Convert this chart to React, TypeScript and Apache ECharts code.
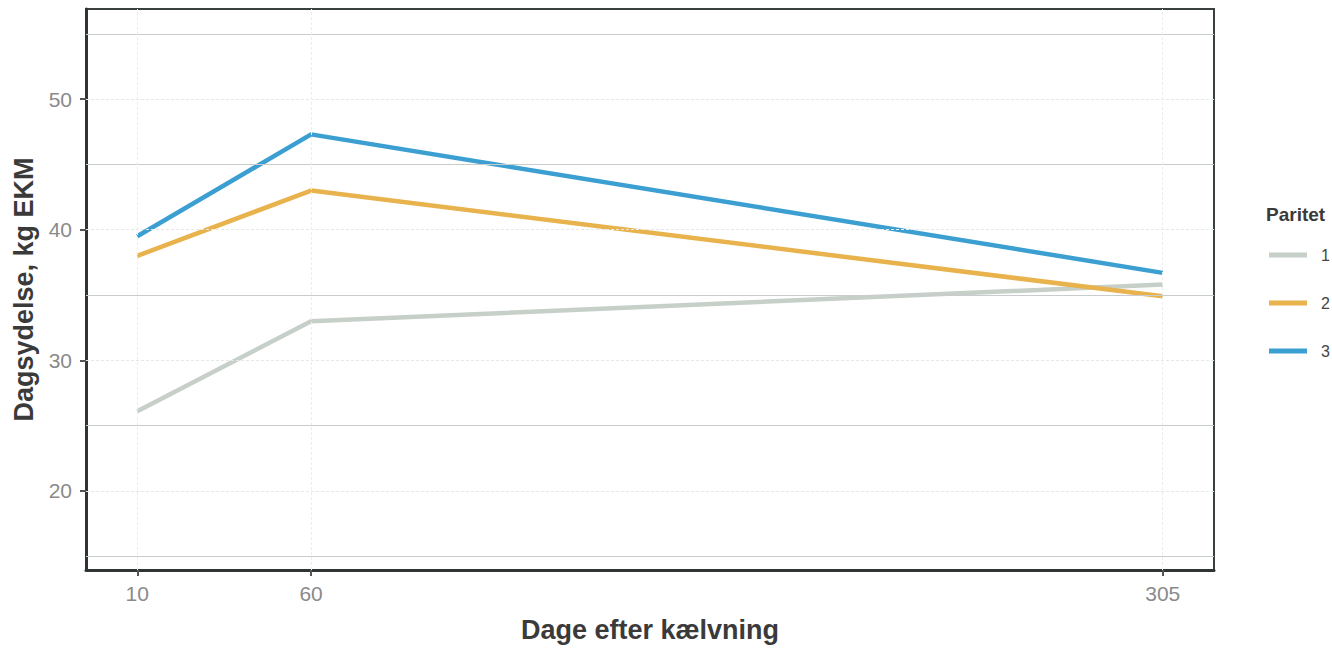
import React, { useEffect, useRef } from "react";
import * as echarts from "echarts";

const days = [10, 60, 305];
const paritet1 = [26.1, 33.0, 35.8];
const paritet2 = [38.0, 43.0, 34.9];
const paritet3 = [39.5, 47.3, 36.7];
const seriesNames = ["1", "2", "3"];
const seriesColors = ["#c7cfc9", "#e8b24c", "#3b9fd1"];
const yMajor = [20, 30, 40, 50];
const yMinor = [15, 25, 35, 45, 55];

export default function App() {
  const ref = useRef<HTMLDivElement>(null);
  useEffect(() => {
    if (!ref.current) return;
    const chart = echarts.init(ref.current, undefined, { renderer: "svg" });
    const font = "'Liberation Sans', Arial, sans-serif";
    const values = [paritet1, paritet2, paritet3];
    const lineSeries = values.map((vals, i) => ({
      name: seriesNames[i],
      type: "line",
      data: days.map((d, j) => [d, vals[j]]),
      showSymbol: false,
      symbol: "none",
      z: 3,
      lineStyle: { color: seriesColors[i], width: 4.5, cap: "butt" },
      itemStyle: { color: seriesColors[i] },
    }));
    const gridSeries = {
      name: "grid",
      type: "line",
      data: [],
      silent: true,
      z: 1,
      markLine: {
        silent: true,
        symbol: ["none", "none"],
        label: { show: false },
        animation: false,
        data: [
          ...yMinor.map((v) => ({ yAxis: v, lineStyle: { color: "#c9cccc", width: 1.2, type: "solid" } })),
          ...yMajor.map((v) => ({ yAxis: v, lineStyle: { color: "#e6e8e8", width: 1, type: [3, 2] } })),
          ...days.map((v) => ({ xAxis: v, lineStyle: { color: "#eceeee", width: 1, type: [3, 2] } })),
        ],
      },
    };
    chart.setOption({
      animation: false,
      backgroundColor: "#ffffff",
      title: {
        text: "Paritet",
        left: 1261,
        top: 200,
        textStyle: { fontFamily: font, fontSize: 19, fontWeight: "bold", color: "#3a3a3a" },
      },
      legend: {
        orient: "vertical",
        left: 1264,
        top: 240,
        icon: "rect",
        itemWidth: 38,
        itemHeight: 5,
        itemGap: 28,
        data: seriesNames,
        textStyle: { fontFamily: font, fontSize: 16, color: "#444", lineHeight: 20, padding: [0, 0, 0, 9] },
      },
      grid: {
        left: 86,
        right: 118,
        top: 9,
        bottom: 76,
        show: true,
        borderColor: "#3a3f3f",
        borderWidth: 2,
      },
      xAxis: {
        type: "value",
        min: -4.75,
        max: 319.75,
        name: "Dage efter kælvning",
        nameLocation: "middle",
        nameGap: 46,
        nameTextStyle: { fontFamily: font, fontSize: 27, fontWeight: "bold", color: "#3a3a3a" },
        axisLine: { show: true, onZero: false, lineStyle: { color: "#2f3434", width: 3 } },
        axisTick: { show: true, customValues: days, length: 6, lineStyle: { color: "#555", width: 2 } },
        axisLabel: { customValues: days, fontFamily: font, fontSize: 21, color: "#8a8a8a", margin: 13 },
        splitLine: { show: false },
      },
      yAxis: {
        type: "value",
        min: 13.95,
        max: 56.9,
        name: "Dagsydelse, kg EKM",
        nameLocation: "middle",
        nameGap: 36,
        nameTextStyle: { fontFamily: font, fontSize: 27, fontWeight: "bold", color: "#3a3a3a" },
        axisLine: { show: true, onZero: false, lineStyle: { color: "#2f3434", width: 3 } },
        axisTick: { show: true, customValues: yMajor, length: 6, lineStyle: { color: "#555", width: 2 } },
        axisLabel: { customValues: yMajor, fontFamily: font, fontSize: 21, color: "#8a8a8a", margin: 14 },
        splitLine: { show: false },
      },
      series: [gridSeries, ...lineSeries],
    });
    return () => chart.dispose();
  }, []);
  return (
    <div
      ref={ref}
      style={{ position: "fixed", left: 0, top: 0, width: 1332, height: 648 }}
    />
  );
}
